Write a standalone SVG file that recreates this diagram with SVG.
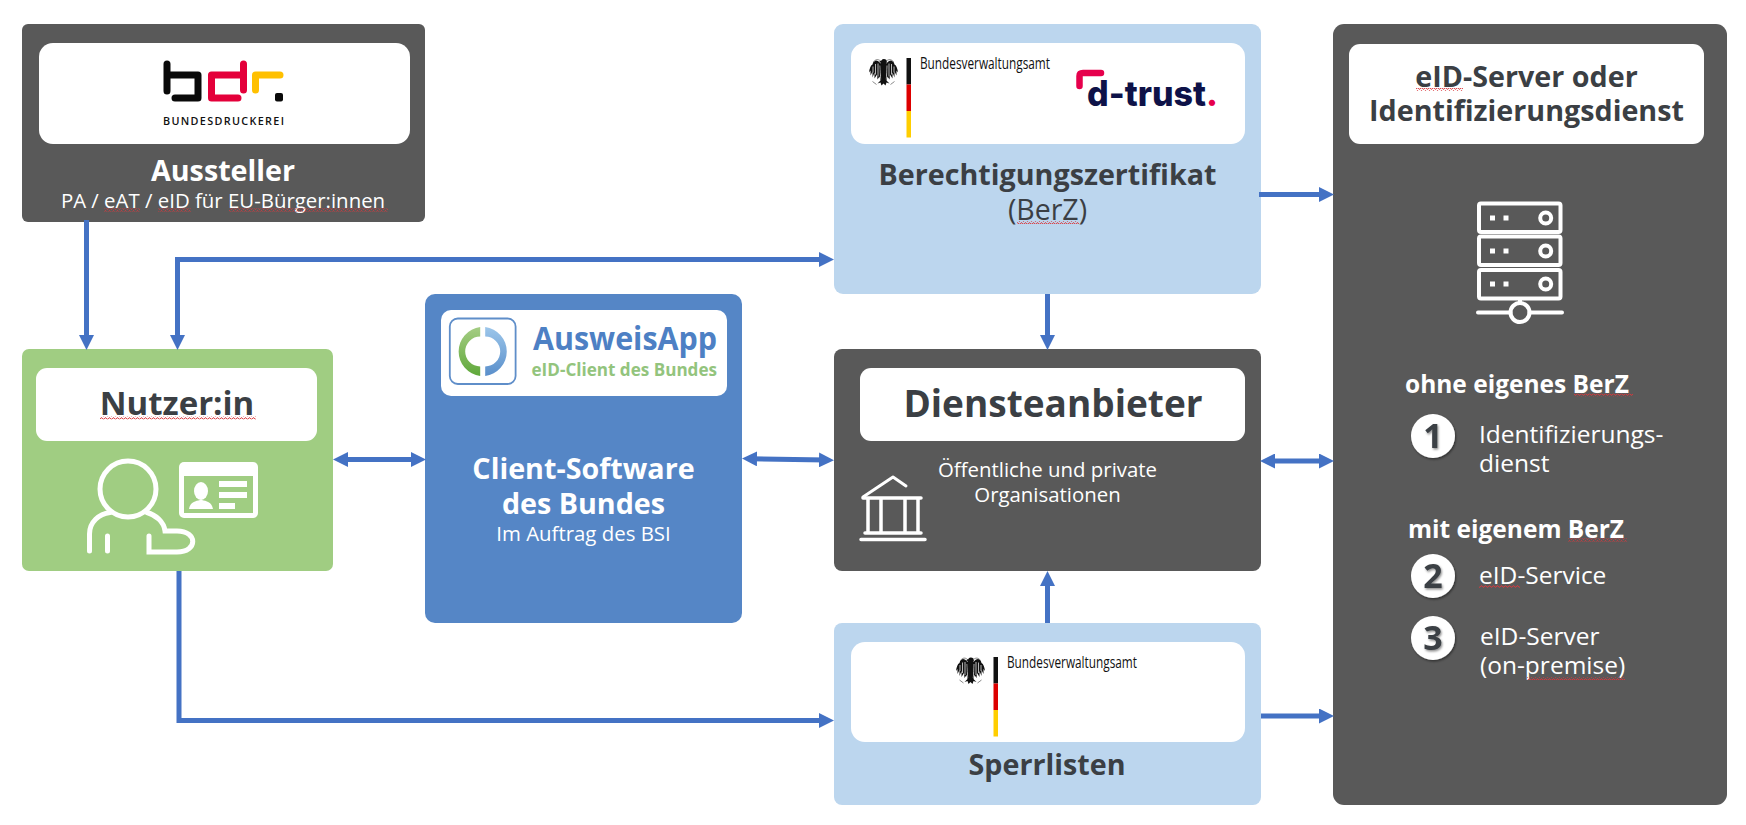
<svg xmlns="http://www.w3.org/2000/svg" xmlns:xlink="http://www.w3.org/1999/xlink" width="1746" height="825" viewBox="0 0 1746 825">
<style>
text{font-family:"Open Sans","Noto Sans","Liberation Sans",sans-serif}
.c{text-anchor:middle}
.b{font-weight:700}
.w{fill:#fff}
.d{fill:#3b3f44}
.dark{fill:#595959}
.light{fill:#bcd6ee}
.box{fill:#fff}
.t28{font-size:28.7px}
.t20{font-size:20.4px}
.t24{font-size:24.5px}
.ln{fill:none;stroke:#fff;stroke-width:4;stroke-linecap:round;stroke-linejoin:round}
.conn{fill:none;stroke:#4472c4;stroke-width:5}
.sq{fill:url(#squiggle)}
.num{font-size:34px;font-weight:700;fill:#3b3f44;text-anchor:middle}
.bva{font-size:15.5px;fill:#111}
</style>
<defs>
<pattern id="squiggle" patternUnits="userSpaceOnUse" width="4" height="3">
<path d="M0 2.200L1 .8L2 .8L3 2.200L4 2.200" fill="none" stroke="#d9383c" stroke-width=".9"/>
</pattern>
<marker id="ah" markerUnits="userSpaceOnUse" viewBox="0 0 15 15" markerWidth="15" markerHeight="15" refX="7" refY="7.500" orient="auto-start-reverse">
<path d="M0 0L15 7.500L0 15Z" fill="#4472c4"/>
</marker>
<filter id="sh" x="-30%" y="-30%" width="160%" height="160%"><feDropShadow dx="1" dy="1.500" stdDeviation="1.200" flood-color="#000" flood-opacity=".45"/></filter>
<linearGradient id="gl" x1="0" y1="0" x2="0" y2="1"><stop offset="0" stop-color="#a5cd84"/><stop offset="1" stop-color="#5fa83a"/></linearGradient>
<linearGradient id="bl" x1="0" y1="0" x2="0" y2="1"><stop offset="0" stop-color="#9cc6ea"/><stop offset="1" stop-color="#5a8fcb"/></linearGradient>
<symbol id="eagle" viewBox="0 0 30 30">
<path fill="#111" d="M12 7C9 3 5 3 4 8C2 9 1 12 .5 16L2 14L2 19L4 15L4 21L6 16L6 22L8.500 18L9 23L11 20L12 24L9 27L12 26L13 29L15 27L17 29L18 26L21 27L18 24L19 20L21 23L21.500 18L24 22L24 16L26 21L26 15L28 19L28 14L29.500 16C29 12 28 9 26 8C25 3 21 3 18 7Z"/>
<path fill="none" stroke="#fff" stroke-width=".7" d="M4.500 10V16M7 7.500V18M9.500 7V20M25.500 10V16M23 7.500V18M20.500 7V20M11.500 9C12 14 11.500 19 12.500 23M18.500 9C18 14 18.500 19 17.500 23"/>
<path fill="#111" d="M12 7C12 3 15 1.500 18 3.500C19 5 18 6.500 17.500 8C18 12 17.500 20 17 24H13C12.500 20 12 12 12 7Z"/>
<path fill="none" stroke="#8a8a8a" stroke-width="1" d="M5 5.500C7 2.500 10 2.500 12 4.500M25 5.500C23 2.500 20 2.500 18 4.500M4 25L8 28M26 25L22 28"/>
<path fill="#111" d="M12.500 4L10.500 5.500L12.500 6Z"/>
</symbol>
<g id="bvabar">
<rect x="0" y="0" width="4.500" height="26.500" fill="#111"/>
<rect x="0" y="26.500" width="4.500" height="26.500" fill="#dd0000"/>
<rect x="0" y="53" width="4.500" height="26.500" fill="#ffce00"/>
</g>
</defs>
<rect width="1746" height="825" fill="#fff"/>

<g id="aussteller">
<rect class="dark" x="22" y="24" width="403" height="198" rx="6"/>
<rect class="box" x="39" y="43" width="371" height="101" rx="14"/>
<g fill="none" stroke-width="7" stroke-linecap="round" stroke-linejoin="round">
<path d="M167 64V91M167 75H198V98H175" stroke="#0a0a0a"/>
<path d="M243.500 64V90M240 75H211.500V98H238" stroke="#e4003a"/>
<path d="M255.500 90V75H280" stroke="#ffc000"/>
</g>
<rect x="275" y="93" width="8" height="8.500" rx="2" fill="#0a0a0a"/>
<text x="163" y="125" font-size="10.800" font-weight="600" textLength="121" fill="#111">BUNDESDRUCKEREI</text>
<text class="c b w t28" x="223" y="181">Aussteller</text>
<text class="c w t20" x="223" y="208">PA / eAT / eID für EU-Bürger:innen</text>
<rect class="sq" x="104" y="208.500" width="36" height="3"/>
<rect class="sq" x="158" y="208.500" width="33" height="3"/>
<rect class="sq" x="229" y="208.500" width="159" height="3"/>
</g>

<g id="nutzer">
<rect x="22" y="349" width="311" height="222" rx="7" fill="#a0cd82"/>
<rect class="box" x="36" y="368" width="281" height="73" rx="11"/>
<text class="c b d" x="177" y="415" font-size="33">Nutzer:in</text>
<rect class="sq" x="100" y="416.500" width="156" height="3"/>
<circle cx="128" cy="489" r="28" fill="none" stroke="#fff" stroke-width="5"/>
<path d="M89.500 551V534C89.500 522 99 514 110 512.500M147 512.500C156 515 164 522 165 531H177C198 531 198 552 177 552H149V536M107.500 536V551" fill="none" stroke="#fff" stroke-width="5" stroke-linecap="round"/>
<rect x="179" y="462" width="79" height="56" rx="5" fill="#fff"/>
<rect x="184" y="476" width="69" height="37" fill="#a0cd82"/>
<ellipse cx="201" cy="491" rx="7" ry="9" fill="#fff"/>
<path d="M189 509C190 502 196 501 200 500H202C206 501 212 502 213 509Z" fill="#fff"/>
<rect x="219" y="481" width="28" height="6" fill="#fff"/>
<rect x="219" y="492" width="28" height="6" fill="#fff"/>
<rect x="219" y="503" width="16" height="6" fill="#fff"/>
</g>

<g id="client">
<rect x="425" y="294" width="317" height="329" rx="10" fill="#5586c6"/>
<rect class="box" x="441" y="310" width="286" height="86" rx="10"/>
<rect x="449.800" y="318.500" width="65.800" height="65.500" rx="8" fill="none" stroke="#5f8ec9" stroke-width="1.800"/>
<path fill="url(#gl)" d="M480.200 327A24.700 24.700 0 0 0 480.200 376V366.500A15 15 0 0 1 480.200 336.500Z"/>
<path fill="url(#bl)" d="M485.200 327A24.700 24.700 0 0 1 485.200 376V366.500A15 15 0 0 0 485.200 336.500Z"/>
<text x="533" y="350" font-size="33" font-weight="700" textLength="184" lengthAdjust="spacingAndGlyphs" fill="#4d80c4">AusweisApp</text>
<text x="531.500" y="375.700" font-size="18" font-weight="700" textLength="185.500" lengthAdjust="spacingAndGlyphs" fill="#93c47d">eID-Client des Bundes</text>
<text class="c b w t28" x="583.500" y="479">Client-Software</text>
<text class="c b w t28" x="583.500" y="514">des Bundes</text>
<text class="c w t20" x="583.500" y="541">Im Auftrag des BSI</text>
</g>

<g id="berechtigung">
<rect class="light" x="834" y="24" width="427" height="270" rx="9"/>
<rect class="box" x="851" y="43" width="394" height="101" rx="14"/>
<use xlink:href="#eagle" href="#eagle" x="868.500" y="56.500" width="30" height="30"/>
<use xlink:href="#bvabar" href="#bvabar" x="906.500" y="58"/>
<text class="bva" x="920" y="69" textLength="130" lengthAdjust="spacingAndGlyphs">Bundesverwaltungsamt</text>
<path d="M1079.500 86V76Q1079.500 73 1083 73H1101" fill="none" stroke="#e6004c" stroke-width="6.500" stroke-linecap="round"/>
<text x="1087" y="106" font-size="35" font-weight="800" textLength="131" lengthAdjust="spacingAndGlyphs" fill="#0e1248" style="font-family:'Inter','Open Sans',sans-serif">d-trust<tspan fill="#e6004c">.</tspan></text>
<text class="c b d t28" x="1047.500" y="185">Berechtigungszertifikat</text>
<text class="c d" x="1047.500" y="220" font-size="28.500">(BerZ)</text>
<rect class="sq" x="1017" y="221" width="62" height="3"/>
</g>

<g id="diensteanbieter">
<rect class="dark" x="834" y="349" width="427" height="222" rx="8"/>
<rect class="box" x="860" y="368" width="385" height="73" rx="11"/>
<text class="c b d" x="1053" y="417" font-size="37">Diensteanbieter</text>
<text class="c w t20" x="1047.500" y="477">Öffentliche und private</text>
<text class="c w t20" x="1047.500" y="502">Organisationen</text>
<g class="ln">
<path d="M863 497L893 477L906 486" stroke-width="3"/>
<path d="M863 498H921M868 498V533M881 498V533M905 498V533M918 498V533M865 533H921M861 539.500H925" stroke-width="3.500"/>
</g>
</g>

<g id="sperrlisten">
<rect class="light" x="834" y="623" width="427" height="182" rx="8"/>
<rect class="box" x="851" y="642" width="394" height="100" rx="14"/>
<use xlink:href="#eagle" href="#eagle" x="955.500" y="655" width="30" height="30"/>
<use xlink:href="#bvabar" href="#bvabar" x="993.500" y="657"/>
<text class="bva" x="1007" y="667.500" textLength="130" lengthAdjust="spacingAndGlyphs">Bundesverwaltungsamt</text>
<text class="c b d t28" x="1047" y="775">Sperrlisten</text>
</g>

<g id="eid-server">
<rect class="dark" x="1333" y="24" width="394" height="781" rx="11"/>
<rect class="box" x="1349" y="44" width="355" height="100" rx="11"/>
<text class="c b d" x="1526.500" y="87" font-size="28.700">eID-Server oder</text>
<text class="c b d" x="1526.500" y="121" font-size="28.700">Identifizierungsdienst</text>
<rect class="sq" x="1416" y="88" width="47" height="3"/>
<g class="ln">
<rect x="1479" y="203.500" width="81.500" height="28.500" rx="2"/>
<rect x="1479" y="236.500" width="81.500" height="28.500" rx="2"/>
<rect x="1479" y="270" width="81.500" height="28.500" rx="2"/>
<path d="M1520 299V303M1478 312.500H1510.500M1529.500 312.500H1562"/>
<circle cx="1520" cy="312.500" r="9.500"/>
<circle cx="1545.700" cy="218" r="5.500"/><circle cx="1545.700" cy="251" r="5.500"/><circle cx="1545.700" cy="284" r="5.500"/>
</g>
<g fill="#fff">
<rect x="1490" y="215.500" width="5" height="5"/><rect x="1503.500" y="215.500" width="5" height="5"/>
<rect x="1490" y="248.500" width="5" height="5"/><rect x="1503.500" y="248.500" width="5" height="5"/>
<rect x="1490" y="281.500" width="5" height="5"/><rect x="1503.500" y="281.500" width="5" height="5"/>
</g>
<text class="b w" x="1405" y="393" font-size="24.500">ohne eigenes BerZ</text>
<rect class="sq" x="1574" y="393.500" width="59" height="3"/>
<circle cx="1433" cy="436" r="22" fill="#fff" filter="url(#sh)"/>
<text class="num" x="1433" y="448" filter="url(#sh)">1</text>
<text class="w t24" x="1479" y="443">Identifizierungs-</text>
<text class="w t24" x="1479" y="472">dienst</text>
<text class="b w" x="1408" y="538" font-size="24.500">mit eigenem BerZ</text>
<rect class="sq" x="1568" y="538.500" width="59" height="3"/>
<circle cx="1433" cy="576" r="22" fill="#fff" filter="url(#sh)"/>
<text class="num" x="1433" y="588" filter="url(#sh)">2</text>
<text class="w t24" x="1479" y="584">eID-Service</text>
<rect class="sq" x="1479" y="585" width="41" height="3"/>
<circle cx="1433" cy="638" r="22" fill="#fff" filter="url(#sh)"/>
<text class="num" x="1433" y="650" filter="url(#sh)">3</text>
<text class="w t24" x="1480" y="645">eID-Server</text>
<text class="w t24" x="1480" y="674">(on-premise)</text>
<rect class="sq" x="1527" y="677" width="98" height="3"/>
</g>

<g id="connectors" class="conn">
<path d="M86.500 220V342" marker-end="url(#ah)"/>
<path d="M177.500 342V259.500H826" marker-start="url(#ah)" marker-end="url(#ah)"/>
<path d="M341 459.500H418" marker-start="url(#ah)" marker-end="url(#ah)"/>
<path d="M750 458.700L826 460" marker-start="url(#ah)" marker-end="url(#ah)"/>
<path d="M1047.500 294V342" marker-end="url(#ah)"/>
<path d="M1259 194.500H1326" marker-end="url(#ah)"/>
<path d="M1268 461H1326" marker-start="url(#ah)" marker-end="url(#ah)"/>
<path d="M1047.500 623V579" marker-end="url(#ah)"/>
<path d="M1261 716H1326" marker-end="url(#ah)"/>
<path d="M179 571V720.500H826" marker-end="url(#ah)"/>
</g>
</svg>
